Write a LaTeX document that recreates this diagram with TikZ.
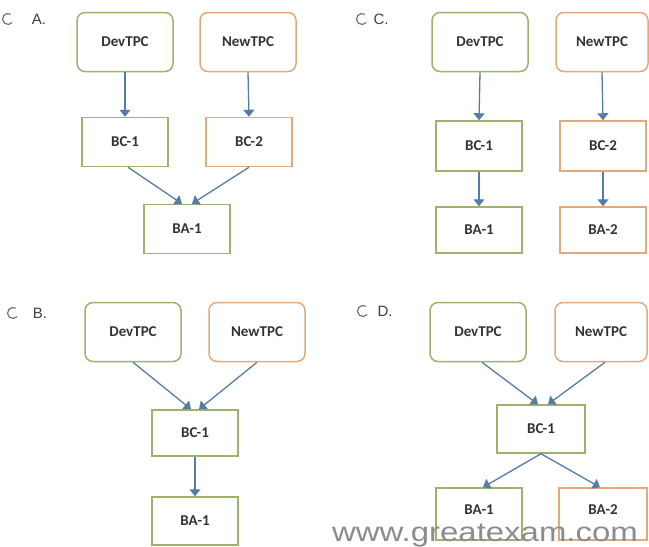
\documentclass[tikz,border=0pt]{standalone}
\usepackage{fontspec}
\setmainfont{Carlito}
\newfontfamily\arialfont{Liberation Sans}
\usetikzlibrary{arrows.meta}
\definecolor{bgreen}{RGB}{158,178,110}
\definecolor{borange}{RGB}{229,168,122}
\definecolor{arrowc}{RGB}{84,124,166}
\tikzset{
  tpc/.style={draw, line width=1.5pt, rounded corners=8pt, minimum width=96pt, minimum height=59pt, font=\fontsize{15}{18}\selectfont\bfseries, text=black!80},
  box/.style={draw, line width=1.5pt, minimum width=86pt, minimum height=49pt, font=\fontsize{15}{18}\selectfont\bfseries, text=black!80},
  gb/.style={draw=bgreen}, ob/.style={draw=borange},
  arr/.style={draw=arrowc, line width=1.3pt, -{Triangle[length=7pt,width=11pt]}},
  optlbl/.style={font=\arialfont\fontsize{15}{18}\selectfont, text=black!75},
  radio/.style={draw=black!55, line width=1.2pt}
}
\begin{document}
\begin{tikzpicture}[x=1pt,y=-1pt]
\useasboundingbox (0,0) rectangle (649,547);
\begin{scope}
\clip (0,0) rectangle (649,547);
% ---------- A ----------
\draw[radio] (8,19) ++(40:5.5) arc (40:300:5.5);
\node[optlbl] (la) at (39,19) {A.};
\node[tpc,gb] (devA) at (125,42) {DevTPC};
\node[tpc,ob] (newA) at (248,42) {NewTPC};
\node[box,gb] (bc1A) at (125,142) {BC-1};
\node[box,ob] (bc2A) at (249,142) {BC-2};
\node[box,gb] (ba1A) at (187,229) {BA-1};
\draw[arr] (devA.south) -- (bc1A.north);
\draw[arr] (newA.south) -- (bc2A.north);
\draw[arr] ([xshift=3pt]bc1A.south) -- ([xshift=-5pt]ba1A.north);
\draw[arr] (bc2A.south) -- ([xshift=5pt]ba1A.north);
% ---------- C ----------
\draw[radio] (362,19) ++(40:5.5) arc (40:300:5.5);
\node[optlbl] (lc) at (381,19) {C.};
\node[tpc,gb] (devC) at (480,42) {DevTPC};
\node[tpc,ob,minimum width=92pt] (newC) at (602,42) {NewTPC};
\node[box,gb,minimum height=50pt] (bc1C) at (479,146) {BC-1};
\node[box,ob,minimum height=50pt] (bc2C) at (603,146) {BC-2};
\node[box,gb,minimum height=46pt] (ba1C) at (479,230) {BA-1};
\node[box,ob,minimum height=46pt] (ba2C) at (603,230) {BA-2};
\draw[arr] (devC.south) -- (bc1C.north);
\draw[arr] (newC.south) -- (bc2C.north);
\draw[arr] (bc1C.south) -- (ba1C.north);
\draw[arr] (bc2C.south) -- (ba2C.north);
% ---------- B ----------
\draw[radio] (13,313) ++(40:5.5) arc (40:300:5.5);
\node[optlbl] (lb) at (40,313) {B.};
\node[tpc,gb] (devB) at (133,332) {DevTPC};
\node[tpc,ob] (newB) at (257,332) {NewTPC};
\node[box,gb,minimum height=46pt] (bc1B) at (195,433) {BC-1};
\node[box,gb,minimum height=48pt] (ba1B) at (195,521) {BA-1};
\draw[arr] (devB.south) -- ([xshift=-4pt]bc1B.north);
\draw[arr] (newB.south) -- ([xshift=4pt]bc1B.north);
\draw[arr] (bc1B.south) -- (ba1B.north);
% ---------- D ----------
\draw[radio] (363,311) ++(40:5.5) arc (40:300:5.5);
\node[optlbl] (ld) at (385,311) {D.};
\node[tpc,gb] (devD) at (478,332) {DevTPC};
\node[tpc,ob,minimum width=92pt] (newD) at (601,332) {NewTPC};
\node[box,gb,minimum width=88pt,minimum height=48pt] (bc1D) at (541,429) {BC-1};
\node[box,gb,minimum height=52pt,text depth=9pt] (ba1D) at (479,514) {BA-1};
\node[box,ob,minimum width=88pt,minimum height=52pt,text depth=9pt] (ba2D) at (603,514) {BA-2};
\draw[arr] ([xshift=4pt]devD.south) -- ([xshift=-3pt]bc1D.north);
\draw[arr] ([xshift=4pt]newD.south) -- ([xshift=7pt]bc1D.north);
\draw[arr] (bc1D.south) -- ([xshift=4pt]ba1D.north);
\draw[arr] (bc1D.south) -- ([xshift=-3pt]ba2D.north);
% watermark
\node[anchor=base, font=\arialfont\fontsize{27}{27}\selectfont, text=black!45, xscale=1.22, transform shape, inner sep=0pt] (wm) at (485,541) {www.greatexam.com};
\end{scope}
\end{tikzpicture}
\end{document}
